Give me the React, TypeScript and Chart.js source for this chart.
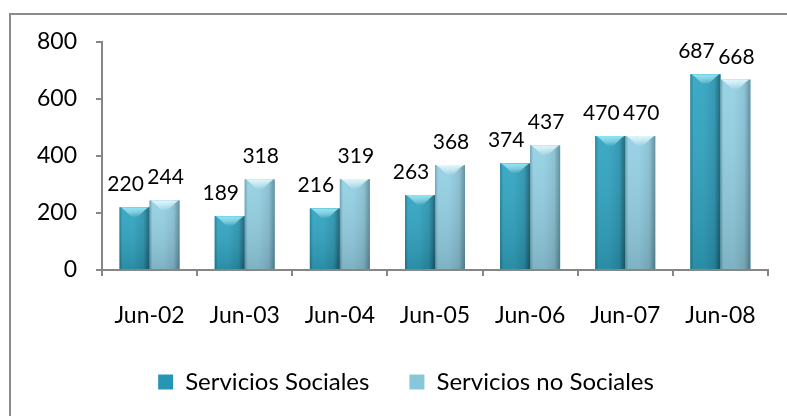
import React, { useEffect, useRef } from 'react';
import { Chart, registerables } from 'chart.js';

Chart.register(...registerables);

const categories = ['Jun-02', 'Jun-03', 'Jun-04', 'Jun-05', 'Jun-06', 'Jun-07', 'Jun-08'];
const serviciosSociales = [220, 189, 216, 263, 374, 470, 687];
const serviciosNoSociales = [244, 318, 319, 368, 437, 470, 668];
const seriesNames = ['Servicios Sociales', 'Servicios no Sociales'];
const yMin = 0;
const yMax = 800;
const yStep = 200;

const palettes = [
  { edgeL: '#1f7c93', mid: '#31a4c1', mid2: '#2a93ae', edgeR: '#175d70', cap: '#86e6f7', base: '#2596b3' },
  { edgeL: '#6a9dae', mid: '#93d0e3', mid2: '#86bfd2', edgeR: '#5c8a99', cap: '#dcf7fd', base: '#88c6da' },
];

const FONT = 'Lato, "Open Sans", sans-serif';
const AXIS = '#868686';

const frame = {
  id: 'frame',
  beforeDraw(chart: any) {
    const ctx = chart.ctx;
    ctx.save();
    ctx.fillStyle = '#ffffff';
    ctx.fillRect(0, 0, chart.width, chart.height);
    ctx.strokeStyle = '#8c8c8c';
    ctx.lineWidth = 2;
    ctx.strokeRect(10, 14, chart.width + 20, chart.height + 20);
    ctx.restore();
  },
};

// centre the legend over the frame's inner area rather than the whole canvas
const legendOffset = {
  id: 'legendOffset',
  afterLayout(chart: any) {
    if (chart.legend) chart.legend.left = chart.legend.left + 44;
  },
};

const barPainter = {
  id: 'barPainter',
  afterDatasetsDraw(chart: any) {
    const ctx = chart.ctx;
    chart.data.datasets.forEach((ds: any, i: number) => {
      const meta = chart.getDatasetMeta(i);
      if (meta.hidden) return;
      const p = palettes[i];
      meta.data.forEach((el: any) => {
        const { x, y, base, width } = el.getProps(['x', 'y', 'base', 'width'], true);
        const l = x - width / 2;
        const r = x + width / 2;
        const t = Math.min(y, base);
        const b = Math.max(y, base);
        ctx.save();
        const g = ctx.createLinearGradient(l, 0, r, 0);
        g.addColorStop(0, p.edgeL);
        g.addColorStop(0.1, p.mid);
        g.addColorStop(0.45, p.mid);
        g.addColorStop(0.8, p.mid2);
        g.addColorStop(1, p.edgeR);
        ctx.fillStyle = g;
        ctx.fillRect(l, t, r - l, b - t);
        const v = ctx.createLinearGradient(0, t, 0, b);
        v.addColorStop(0, 'rgba(255,255,255,0.06)');
        v.addColorStop(1, 'rgba(0,0,0,0.14)');
        ctx.fillStyle = v;
        ctx.fillRect(l, t, r - l, b - t);
        const cg = ctx.createLinearGradient(0, t, 0, t + 10);
        cg.addColorStop(0, p.cap);
        cg.addColorStop(1, 'rgba(255,255,255,0)');
        ctx.fillStyle = cg;
        ctx.beginPath();
        ctx.moveTo(l + 1, t);
        ctx.lineTo(r - 1, t);
        ctx.lineTo(r - 5, t + 3);
        ctx.lineTo(x + 3, t + 10);
        ctx.lineTo(x - 3, t + 10);
        ctx.lineTo(l + 5, t + 3);
        ctx.closePath();
        ctx.fill();
        ctx.restore();
      });
    });
  },
};

const labelShift = [-9, 1];

const valueLabels = {
  id: 'valueLabels',
  afterDatasetsDraw(chart: any) {
    const ctx = chart.ctx;
    ctx.save();
    ctx.font = `21px ${FONT}`;
    ctx.fillStyle = '#000000';
    ctx.textAlign = 'center';
    ctx.textBaseline = 'alphabetic';
    chart.data.datasets.forEach((ds: any, i: number) => {
      const meta = chart.getDatasetMeta(i);
      meta.data.forEach((el: any, j: number) => {
        const { x, y } = el.getProps(['x', 'y'], true);
        ctx.fillText(String(ds.data[j]), x + labelShift[i], y - 16);
      });
    });
    ctx.restore();
  },
};

export default function App() {
  const ref = useRef<HTMLCanvasElement>(null);
  useEffect(() => {
    if (!ref.current) return;
    const chart = new Chart(ref.current, {
      type: 'bar',
      data: {
        labels: categories,
        datasets: [
          { label: seriesNames[0], data: serviciosSociales, backgroundColor: palettes[0].base, borderWidth: 0 },
          { label: seriesNames[1], data: serviciosNoSociales, backgroundColor: palettes[1].base, borderWidth: 0 },
        ],
      },
      options: {
        responsive: false,
        animation: false,
        categoryPercentage: 0.63,
        barPercentage: 1.0,
        layout: { padding: { top: 42, right: 19, bottom: 12, left: 0 } },
        font: { family: FONT, size: 23 },
        plugins: {
          tooltip: { enabled: false },
          legend: {
            position: 'bottom',
            labels: {
              boxWidth: 15,
              boxHeight: 15,
              padding: 40,
              color: '#000',
              font: { family: FONT, size: 24 },
            },
          },
        },
        scales: {
          x: {
            grid: { display: true, drawOnChartArea: false, drawTicks: true, tickLength: 6, color: AXIS, lineWidth: 2 },
            border: { display: true, color: AXIS, width: 2 },
            ticks: { color: '#000', font: { family: FONT, size: 23 }, padding: 26, maxRotation: 0 },
            afterFit(scale: any) { scale.height = 60; },
          },
          y: {
            min: yMin,
            max: yMax,
            grid: { display: true, drawOnChartArea: false, drawTicks: true, tickLength: 6, color: AXIS, lineWidth: 2 },
            border: { display: true, color: AXIS, width: 2 },
            ticks: { stepSize: yStep, color: '#000', font: { family: FONT, size: 23 }, padding: 19 },
            afterFit(scale: any) { scale.width = 102; },
          },
        },
      } as any,
      plugins: [frame, legendOffset, barPainter, valueLabels],
    });
    return () => chart.destroy();
  }, []);
  return (
    <div style={{ position: 'absolute', left: 0, top: 0, width: 787, height: 416 }}>
      <canvas ref={ref} width={787} height={416} style={{ display: 'block' }} />
    </div>
  );
}
